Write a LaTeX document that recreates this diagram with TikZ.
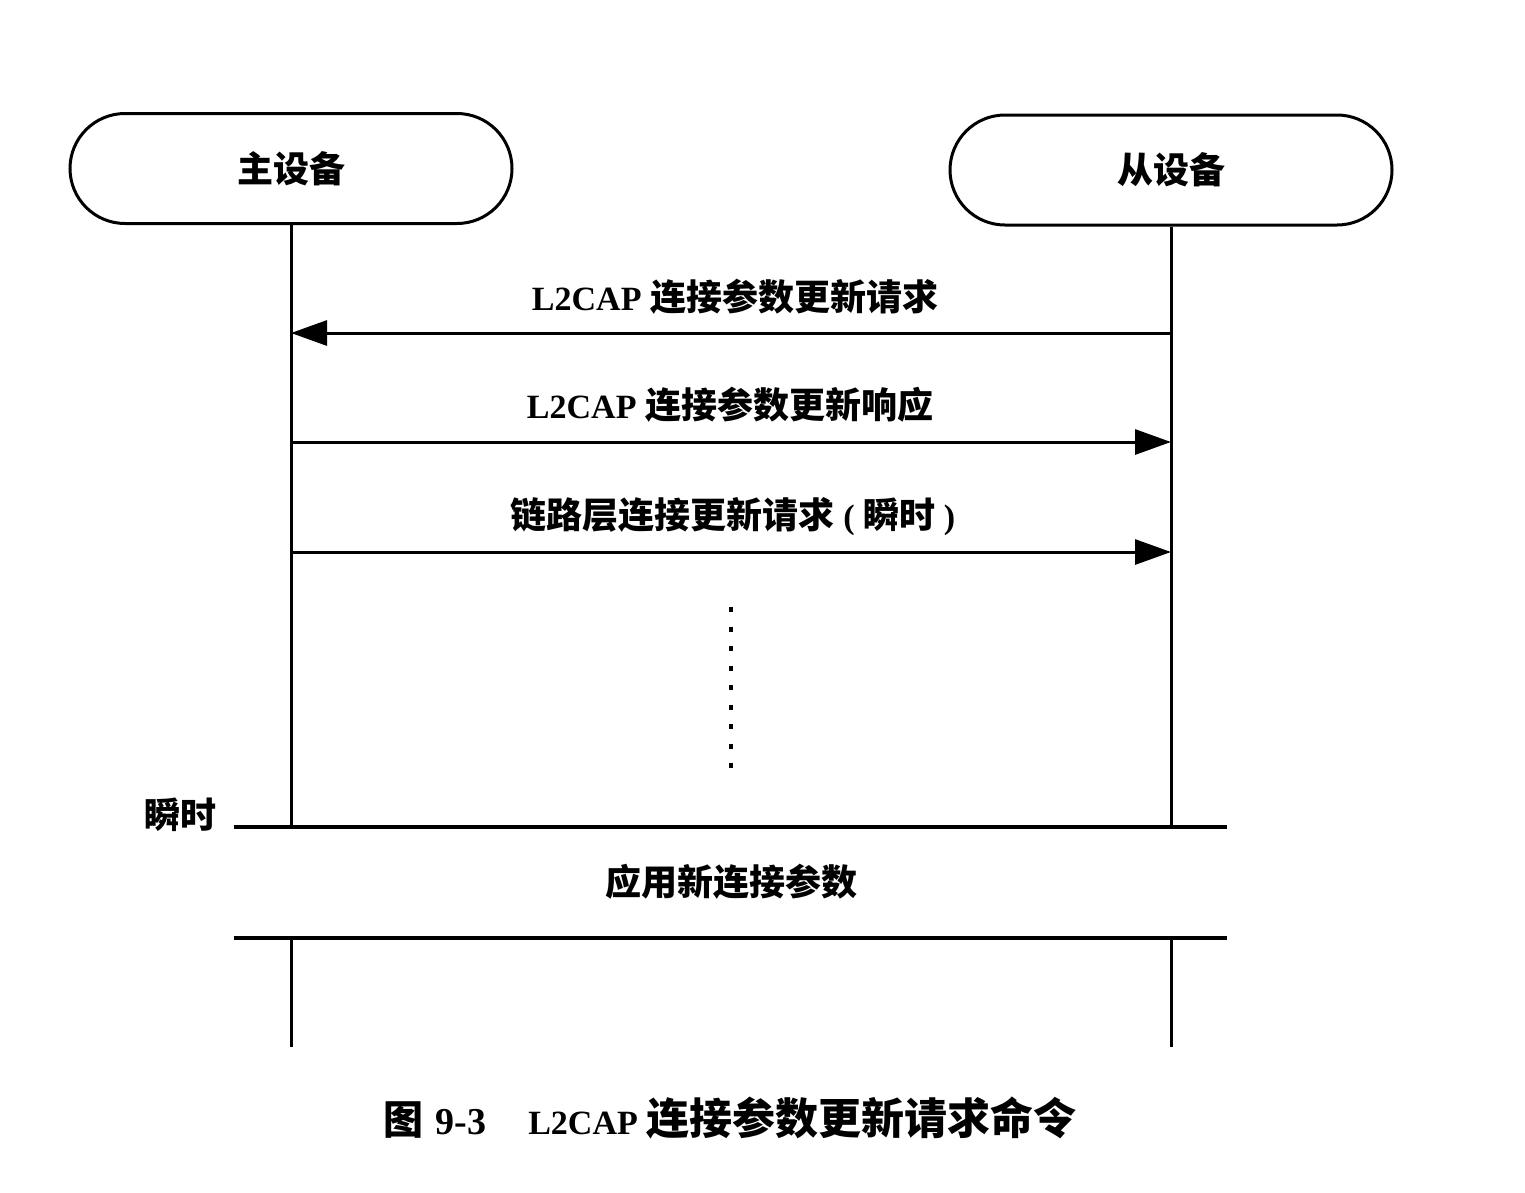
\documentclass[tikz,border=0pt]{standalone}
\usepackage{fontspec}
\setmainfont{Liberation Serif}
\newfontfamily\cjkraw{Noto Sans CJK SC}
\newcommand{\cj}{\cjkraw\fontsize{36}{42}\selectfont}
\usetikzlibrary{arrows.meta}
\begin{document}
\begin{tikzpicture}[x=1pt,y=-1pt,
  actor/.style={draw,line width=3pt,rounded corners=55pt,minimum width=442pt,minimum height=110pt,inner sep=0pt,
    font=\bfseries\cj},
  life/.style={line width=3pt},
  msg/.style={line width=3pt,-{Triangle[length=36pt,width=25pt]}},
  lbl/.style={font=\fontsize{34}{40}\selectfont\bfseries,inner sep=0pt},
  bar/.style={line width=4pt}]
\useasboundingbox (0,0) rectangle (1525,1192);
% actors
\node[actor] (m) at (291,168.5) {主设备};
\node[actor] (s) at (1171,170) {从设备};
% lifeline coordinates
\coordinate (m1) at (291,333);
\coordinate (s1) at (1171,333);
\coordinate (m2) at (291,442);
\coordinate (s2) at (1171,442);
\coordinate (m3) at (291,552);
\coordinate (s3) at (1171,552);
\coordinate (mEnd) at (291,827);
\coordinate (sEnd) at (1171,827);
\coordinate (mB) at (291,938);
\coordinate (sB) at (1171,938);
\coordinate (mF) at (291,1047);
\coordinate (sF) at (1171,1047);
\coordinate (b1L) at (234,827);
\coordinate (b1R) at (1227,827);
\coordinate (b2L) at (234,938);
\coordinate (b2R) at (1227,938);
\coordinate (d1) at (731,607);
\coordinate (d2) at (731,772);
% lifelines
\draw[life] (m.south) -- (mEnd);
\draw[life] (s.south) -- (sEnd);
\draw[life] (mB) -- (mF);
\draw[life] (sB) -- (sF);
% messages
\draw[msg] (s1) -- (m1);
\draw[msg] (m2) -- (s2);
\draw[msg] (m3) -- (s3);
\node[lbl] (l1) at (735,297) {L2CAP {\cj 连接参数更新请求}};
\node[lbl] (l2) at (730,405) {L2CAP {\cj 连接参数更新响应}};
\node[lbl] (l3) at (733,517) {{\cj 链路层连接更新请求} ( {\cj 瞬时} )};
% dotted
\draw[line width=4pt,dash pattern=on 5pt off 14.5pt] (d1) -- (d2);
% bars
\draw[bar] (b1L) -- (b1R);
\draw[bar] (b2L) -- (b2R);
\node[lbl] (t) at (180,815) {\cj 瞬时};
\node[lbl] (ap) at (731,882) {\cj 应用新连接参数};
% caption
\node[lbl] (cap) at (730,1118) {{\cjkraw\fontsize{40}{46}\selectfont 图}\hspace{12pt}{\fontsize{38}{44}\selectfont 9-3}\hspace{42pt}L2CAP {\cjkraw\fontsize{43}{48}\selectfont 连接参数更新请求命令}};
\end{tikzpicture}
\end{document}
